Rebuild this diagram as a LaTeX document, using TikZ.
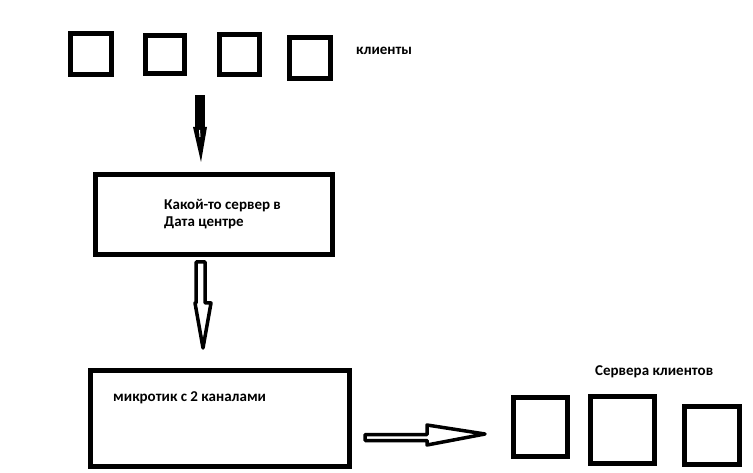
\documentclass[tikz,border=0pt]{standalone}
\usepackage{fontspec}
\setmainfont{Carlito}
\begin{document}
\begin{tikzpicture}[x=1pt,y=-1pt,
  sq/.style={draw=black,line width=5pt,fill=white},
  lbl/.style={font=\fontsize{15}{16}\selectfont\bfseries,inner sep=0pt,anchor=west,align=left},
  hollow/.style={draw=black,line width=3.5pt,line join=round,fill=white}]
\useasboundingbox[fill=white] (0,0) rectangle (753,473);
% top client squares
\draw[sq] (70.5,33.5) rectangle (111.5,74.5);
\draw[sq] (145.5,35.5) rectangle (184.5,73.5);
\draw[sq] (219.5,34.5) rectangle (259.5,74.5);
\draw[sq] (289.5,37.5) rectangle (330.5,78.5);
\node[lbl] (klienty) at (356,51) {клиенты};
% arrow 1 (filled)
\fill[black] (195,95) rectangle (205,128);
\fill[black] (193,127) -- (207,127) -- (201,162) -- cycle;
\draw[white,line width=1pt] (199.5,130) -- (200,137);
% server box
\draw[sq] (95.5,174.5) rectangle (332.5,254.5);
\node[lbl] (srv) at (164,214) {Какой-то сервер в\\[1pt]Дата центре};
% arrow 2 (hollow)
\draw[hollow] (196,262) -- (205,262) -- (205,303) -- (211,303) -- (203,348) -- (195,303) -- (196,303) -- cycle;
\draw[white,line width=0.8pt] (200.5,265) -- (200.5,300);
% mikrotik box
\draw[sq] (90.5,370.5) rectangle (349.5,466.5);
\node[lbl] (mik) at (113,398) {микротик с 2 каналами};
% arrow 3 (hollow)
\draw[hollow] (365,434.5) -- (427,434.5) -- (427,425) -- (485,434) -- (427,445) -- (427,440.5) -- (365,440.5) -- cycle;
% client servers
\node[lbl] (servers) at (595,372) {Сервера клиентов};
\draw[sq] (513.5,397.5) rectangle (567.5,456.5);
\draw[sq] (590.5,396.5) rectangle (654.5,463.5);
\draw[sq] (684.5,406.5) rectangle (739.5,464.5);
\end{tikzpicture}
\end{document}
